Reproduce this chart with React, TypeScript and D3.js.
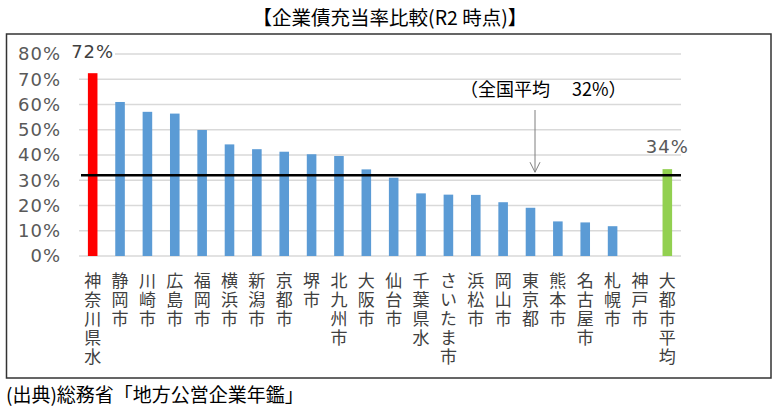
import React from 'react';
import * as d3 from 'd3';

// 企業債充当率 (R2時点), %
const categories = [
    '神奈川県水', '静岡市', '川崎市', '広島市', '福岡市', '横浜市', '新潟市', '京都市',
    '堺市', '北九州市', '大阪市', '仙台市', '千葉県水', 'さいたま市', '浜松市', '岡山市',
    '東京都', '熊本市', '名古屋市', '札幌市', '神戸市', '大都市平均',
];
const values: (number | null)[] = [
    72.4, 61, 57.1, 56.4, 49.9, 44.2, 42.3, 41.3,
    40.3, 39.6, 34.3, 31.0, 24.8, 24.3, 24.2, 21.3,
    19.1, 13.7, 13.3, 11.8, null, 34.4,
];
const yTicks = [0, 10, 20, 30, 40, 50, 60, 70, 80];
const nationalAvg = 32;

const W = 780;
const H = 412;
const CJK = '"Noto Sans CJK JP", "Noto Sans", sans-serif';
const NUM = '"DejaVu Sans", "Noto Sans", sans-serif';

export default function App() {
    const x = d3.scaleBand<string>().domain(categories).range([79, 681]).paddingInner(0.65).paddingOuter(0.325);
    const y = d3.scaleLinear().domain([0, 80]).range([256, 54]);

    const barColor = (i: number) => {
        if (i === 0) return '#ff0000';
        if (i === categories.length - 1) return '#92d050';
        return '#5b9bd5';
    };

    const first = categories[0];
    const last = categories[categories.length - 1];
    const arrowX = 535;
    const avgY = y(nationalAvg);

    return (
        <svg
            width={W}
            height={H}
            viewBox={`0 0 ${W} ${H}`}
            style={{ position: 'absolute', left: 0, top: 0, background: '#fff' }}
        >
            {/* title */}
            <text x={390} y={18} dy="0.36em" textAnchor="middle" fontFamily={CJK} fontSize={19.5} fill="#000">
                【企業債充当率比較(R2 時点)】
            </text>

            {/* frame */}
            <rect x={6.5} y={34} width={764.5} height={344} fill="none" stroke="#333" strokeWidth={1.5} />

            {/* gridlines */}
            {yTicks.map((t) => (
                <line key={t} x1={79} x2={681} y1={y(t)} y2={y(t)} stroke="#d9d9d9" strokeWidth={1.5} />
            ))}

            {/* y tick labels */}
            {yTicks.map((t) => (
                <text key={t} x={61} y={y(t)} dy="0.36em" textAnchor="end" fontFamily={NUM} fontSize={18} letterSpacing={1} fill="#595959">
                    {t}%
                </text>
            ))}

            {/* bars */}
            {categories.map((c, i) => {
                const v = values[i];
                if (v == null) return null;
                return (
                    <rect key={c} x={x(c)} y={y(v)} width={x.bandwidth()} height={y(0) - y(v)} fill={barColor(i)} />
                );
            })}

            {/* national average line */}
            <line x1={81} x2={681} y1={avgY} y2={avgY} stroke="#000" strokeWidth={2.5} />

            {/* annotation */}
            <text x={460} y={90} dy="0.36em" fontFamily={CJK} fontSize={18} fill="#000">
                （全国平均　 32%）
            </text>
            <line x1={arrowX} x2={arrowX} y1={110} y2={avgY - 3} stroke="#7f7f7f" strokeWidth={1} />
            <path
                d={`M${arrowX - 5},${avgY - 13} L${arrowX},${avgY - 3} L${arrowX + 5},${avgY - 13}`}
                fill="none"
                stroke="#7f7f7f"
                strokeWidth={1}
            />

            {/* value labels */}
            <rect x={69} y={42} width={46} height={20} fill="#fff" />
            <text x={(x(first) ?? 0) + x.bandwidth() / 2} y={52} dy="0.36em" textAnchor="middle" fontFamily={NUM} fontSize={18} letterSpacing={1} fill="#404040">
                72%
            </text>
            <text x={(x(last) ?? 0) + x.bandwidth() / 2} y={147} dy="0.36em" textAnchor="middle" fontFamily={NUM} fontSize={18} letterSpacing={1} fill="#595959">
                34%
            </text>

            {/* vertical category labels */}
            {categories.map((c) => {
                const cx = (x(c) ?? 0) + x.bandwidth() / 2;
                return (
                    <text
                        key={c}
                        x={cx}
                        y={272}
                        fontFamily={CJK}
                        fontSize={17}
                        letterSpacing={2}
                        fill="#404040"
                        style={{ writingMode: 'vertical-rl', textOrientation: 'upright' }}
                    >
                        {c}
                    </text>
                );
            })}

            {/* source */}
            <text x={6} y={395} dy="0.36em" fontFamily={CJK} fontSize={19} fill="#000">
                (出典)総務省「地方公営企業年鑑」
            </text>
        </svg>
    );
}
